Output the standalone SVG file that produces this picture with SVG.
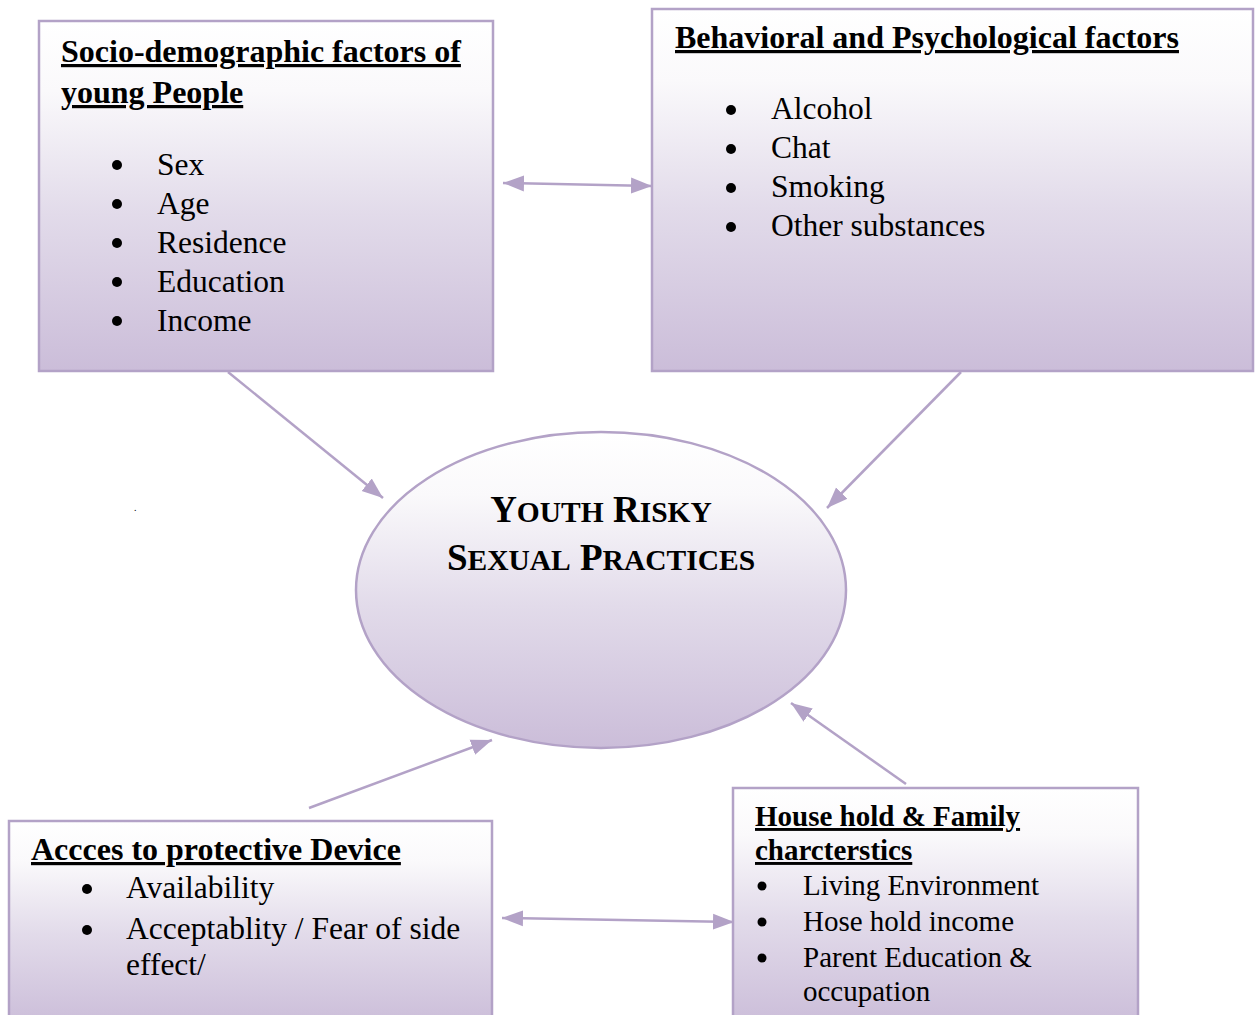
<svg xmlns="http://www.w3.org/2000/svg" width="1255" height="1015" viewBox="0 0 1255 1015">
<defs>
<linearGradient id="g" x1="0" y1="0" x2="0" y2="1">
<stop offset="0" stop-color="#FFFFFF"/>
<stop offset="0.2" stop-color="#FAF9FB"/>
<stop offset="0.55" stop-color="#E2DBEA"/>
<stop offset="1" stop-color="#CBBDD9"/>
</linearGradient>
<marker id="ah" markerUnits="userSpaceOnUse" markerWidth="24" markerHeight="20" refX="21" refY="10" orient="auto-start-reverse">
<path d="M0,2 L21,10 L0,18 z" fill="#B3A2C7"/>
</marker>
<style>
.box{fill:url(#g);stroke:#B3A2C7;stroke-width:2.5}
.t{font-family:"Liberation Serif","Times New Roman",serif;fill:#000}
.h{font-weight:bold;text-decoration:underline;text-decoration-thickness:2.5px}
.c{stroke:#B3A2C7;stroke-width:2.5;fill:none;marker-end:url(#ah)}
.d{marker-start:url(#ah)}
.b{fill:#000}
</style>
</defs>

<g id="connectors">
<line class="c d" x1="503" y1="183" x2="652" y2="186"/>
<line class="c" x1="228" y1="372" x2="383" y2="498"/>
<line class="c" x1="961" y1="372" x2="827" y2="508"/>
<line class="c" x1="309" y1="808" x2="492" y2="740"/>
<line class="c" x1="906" y1="784" x2="791" y2="703"/>
<line class="c d" x1="502" y1="918" x2="734" y2="922"/>
</g>

<g id="socio">
<rect class="box" x="39" y="21" width="454" height="350"/>
<text class="t h" x="61" y="62" font-size="32">Socio-demographic factors of</text>
<text class="t h" x="61" y="103" font-size="32">young People</text>
<g class="t" font-size="31.5">
<circle class="b" cx="117" cy="165" r="5"/><text x="157" y="175">Sex</text>
<circle class="b" cx="117" cy="204" r="5"/><text x="157" y="214">Age</text>
<circle class="b" cx="117" cy="243" r="5"/><text x="157" y="253">Residence</text>
<circle class="b" cx="117" cy="282" r="5"/><text x="157" y="292">Education</text>
<circle class="b" cx="117" cy="321" r="5"/><text x="157" y="331">Income</text>
</g>
</g>

<g id="behavioral">
<rect class="box" x="652" y="9" width="601" height="362"/>
<text class="t h" x="675" y="48" font-size="32">Behavioral and Psychological factors</text>
<g class="t" font-size="31.5">
<circle class="b" cx="731" cy="110" r="5"/><text x="771" y="119">Alcohol</text>
<circle class="b" cx="731" cy="149" r="5"/><text x="771" y="158">Chat</text>
<circle class="b" cx="731" cy="188" r="5"/><text x="771" y="197">Smoking</text>
<circle class="b" cx="731" cy="227" r="5"/><text x="771" y="236">Other substances</text>
</g>
</g>

<g id="outcome">
<ellipse cx="601" cy="590" rx="245" ry="158" fill="url(#g)" stroke="#B3A2C7" stroke-width="2.5"/>
<text class="t" x="601" y="522" text-anchor="middle" font-weight="bold" font-size="37">Y<tspan font-size="29.5">OUTH</tspan> R<tspan font-size="29.5">ISKY</tspan></text>
<text class="t" x="601" y="570" text-anchor="middle" font-weight="bold" font-size="37">S<tspan font-size="29.5">EXUAL</tspan> P<tspan font-size="29.5">RACTICES</tspan></text>
</g>

<text class="t" x="134" y="511" font-size="10">.</text>

<g id="access">
<rect class="box" x="9" y="821" width="483" height="205"/>
<text class="t h" x="31" y="860" font-size="32">Accces to protective Device</text>
<g class="t" font-size="31.5">
<circle class="b" cx="87" cy="889" r="5"/><text x="126" y="898">Availability</text>
<circle class="b" cx="87" cy="930" r="5"/><text x="126" y="939">Acceptablity / Fear of side</text>
<text x="126" y="975">effect/</text>
</g>
</g>

<g id="household">
<rect class="box" x="733" y="788" width="405" height="238"/>
<text class="t h" x="755" y="826" font-size="29">House hold &amp; Family</text>
<text class="t h" x="755" y="860" font-size="29">charcterstics</text>
<g class="t" font-size="29">
<circle class="b" cx="762" cy="886" r="4.5"/><text x="803" y="895">Living Environment</text>
<circle class="b" cx="762" cy="922" r="4.5"/><text x="803" y="931">Hose hold income</text>
<circle class="b" cx="762" cy="958" r="4.5"/><text x="803" y="967">Parent Education &amp;</text>
<text x="803" y="1001">occupation</text>
</g>
</g>
</svg>
